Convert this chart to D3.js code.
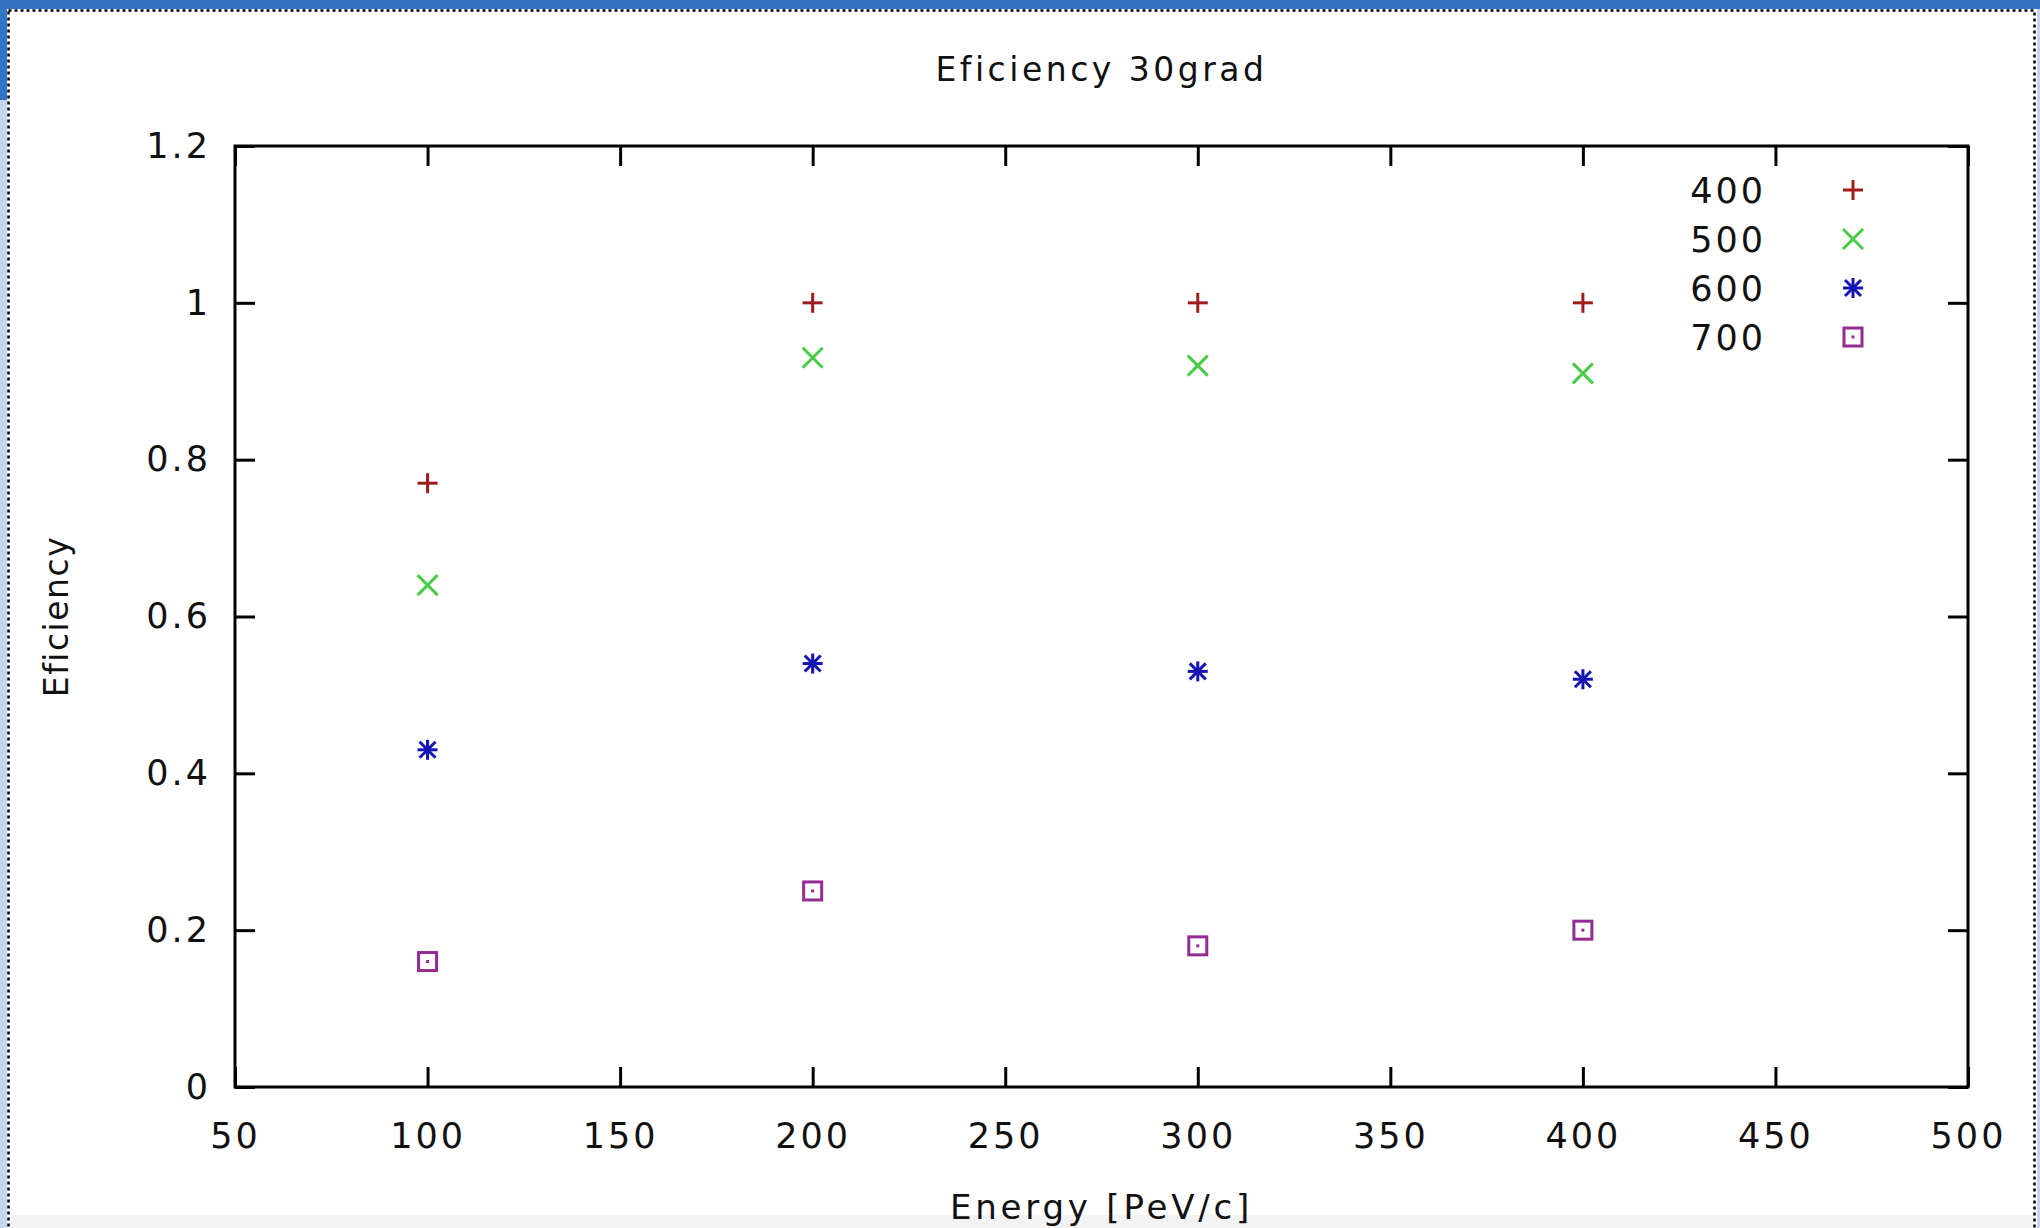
<!DOCTYPE html>
<html><head><meta charset="utf-8">
<script src="https://cdn.jsdelivr.net/npm/d3@7"></script>
<style>html,body{margin:0;padding:0;background:#fff;overflow:hidden}</style>
</head><body>
<svg id="c" width="2040" height="1228"></svg>
<script>
const energies = [100, 200, 300, 400];
const seriesNames = ["400", "500", "600", "700"];
const eff400 = [0.77, 1.00, 1.00, 1.00];
const eff500 = [0.64, 0.93, 0.92, 0.91];
const eff600 = [0.43, 0.54, 0.53, 0.52];
const eff700 = [0.16, 0.25, 0.18, 0.20];
const xTicks = [50, 100, 150, 200, 250, 300, 350, 400, 450, 500];
const yTicks = [0, 0.2, 0.4, 0.6, 0.8, 1, 1.2];
const title = "Eficiency 30grad";
const xTitle = "Energy [PeV/c]";
const yTitle = "Eficiency";

const series = [
  {name: seriesNames[0], values: eff400, shape: "plus", color: "#a01c1c"},
  {name: seriesNames[1], values: eff500, shape: "cross", color: "#48cc48"},
  {name: seriesNames[2], values: eff600, shape: "star", color: "#1414b4"},
  {name: seriesNames[3], values: eff700, shape: "square", color: "#942c94"}
];

const svg = d3.select("#c");
const font = "'DejaVu Sans', Verdana, sans-serif";

// window frame
svg.append("rect").attr("x",0).attr("y",0).attr("width",2040).attr("height",1228).attr("fill","#fff");
svg.append("rect").attr("x",0).attr("y",0).attr("width",2040).attr("height",9).attr("fill","#3474c4");
svg.append("rect").attr("x",0).attr("y",0).attr("width",7).attr("height",100).attr("fill","#3474c4");
svg.append("rect").attr("x",0).attr("y",100).attr("width",7).attr("height",1128).attr("fill","#c4d6ee");
svg.append("rect").attr("x",2037).attr("y",9).attr("width",3).attr("height",1219).attr("fill","#c4d6ee");
svg.append("rect").attr("x",10).attr("y",1215).attr("width",2024).attr("height",13).attr("fill","#f3f3f3");
svg.append("rect").attr("x",8.5).attr("y",10.5).attr("width",2026).attr("height",1240)
  .attr("fill","none").attr("stroke","#000").attr("stroke-width",2.5).attr("stroke-dasharray","3,3");

const L = 235, R = 1968, T = 146, B = 1087;
const x = d3.scaleLinear().domain([50, 500]).range([L, R]);
const y = d3.scaleLinear().domain([0, 1.2]).range([B, T]);

const tickLen = 20;
const axisStyle = g => {
  g.select(".domain").remove();
  g.selectAll(".tick line").attr("stroke","#000").attr("stroke-width",3);
  g.selectAll(".tick text").attr("font-family",font).attr("font-size",35)
    .attr("letter-spacing",3).attr("fill","#111");
};
// bottom
svg.append("g").attr("transform",`translate(0,${B})`)
  .call(d3.axisBottom(x).tickValues(xTicks).tickSize(-tickLen).tickPadding(36).tickFormat(d3.format("d")))
  .call(axisStyle);
// top mirror
svg.append("g").attr("transform",`translate(0,${T})`)
  .call(d3.axisTop(x).tickValues(xTicks).tickSize(-tickLen).tickFormat(""))
  .call(axisStyle);
// left
svg.append("g").attr("transform",`translate(${L},0)`)
  .call(d3.axisLeft(y).tickValues(yTicks).tickSize(-tickLen).tickPadding(24).tickFormat(d => d3.format("~g")(d)))
  .call(axisStyle);
// right mirror
svg.append("g").attr("transform",`translate(${R},0)`)
  .call(d3.axisRight(y).tickValues(yTicks).tickSize(-tickLen).tickFormat(""))
  .call(axisStyle);

// plot border
svg.append("rect").attr("x",L).attr("y",T).attr("width",R-L).attr("height",B-T)
  .attr("fill","none").attr("stroke","#000").attr("stroke-width",3);

function marker(g, shape, color, cx, cy) {
  const h = 10;
  const s = g.append("g").attr("transform",`translate(${cx},${cy})`)
    .attr("stroke",color).attr("stroke-width",3).attr("fill","none");
  if (shape === "plus" || shape === "star") {
    s.append("line").attr("x1",-h).attr("x2",h).attr("y1",0).attr("y2",0);
    s.append("line").attr("x1",0).attr("x2",0).attr("y1",-h).attr("y2",h);
  }
  if (shape === "cross" || shape === "star") {
    const d = shape === "star" ? h*0.8 : h;
    s.append("line").attr("x1",-d).attr("x2",d).attr("y1",-d).attr("y2",d);
    s.append("line").attr("x1",-d).attr("x2",d).attr("y1",d).attr("y2",-d);
  }
  if (shape === "square") {
    s.append("rect").attr("x",-9).attr("y",-9).attr("width",18).attr("height",18);
    s.append("rect").attr("x",-1.5).attr("y",-1.5).attr("width",3).attr("height",3).attr("fill",color).attr("stroke","none");
  }
}

const pts = svg.append("g");
series.forEach(sr => {
  sr.values.forEach((v, i) => marker(pts, sr.shape, sr.color, x(energies[i]), y(v)));
});

// legend
const leg = svg.append("g");
series.forEach((sr, i) => {
  const ly = 190 + i * 49;
  leg.append("text").attr("x",1766).attr("y",ly).attr("dy","0.36em").attr("text-anchor","end")
    .attr("font-family",font).attr("font-size",35).attr("letter-spacing",3).attr("fill","#111").text(sr.name);
  marker(leg, sr.shape, sr.color, 1853, ly);
});

// titles
svg.append("text").attr("x",(L+R)/2).attr("y",81).attr("text-anchor","middle")
  .attr("font-family",font).attr("font-size",33).attr("letter-spacing",3.5).attr("fill","#111").text(title);
svg.append("text").attr("x",(L+R)/2).attr("y",1219).attr("text-anchor","middle")
  .attr("font-family",font).attr("font-size",34).attr("letter-spacing",3.8).attr("fill","#111").text(xTitle);
svg.append("text").attr("transform",`translate(68,${(T+B)/2}) rotate(-90)`).attr("text-anchor","middle")
  .attr("font-family",font).attr("font-size",33).attr("letter-spacing",1.5).attr("fill","#111").text(yTitle);
</script>
</body></html>
